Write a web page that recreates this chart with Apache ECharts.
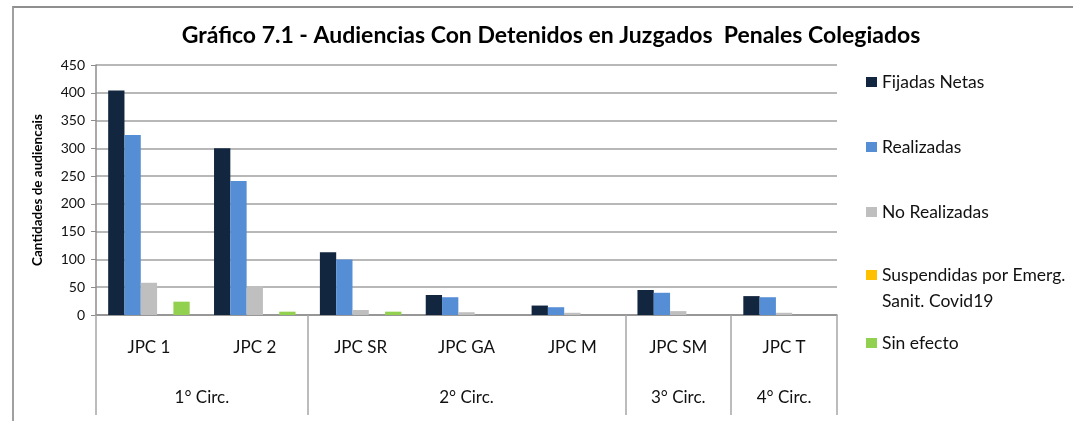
<!DOCTYPE html>
<html>
<head>
<meta charset="utf-8">
<script src="https://cdn.jsdelivr.net/npm/echarts@6/dist/echarts.min.js"></script>
<style>
  body { margin: 0; background: #fff; }
  #wrap { position: relative; width: 1073px; height: 421px; }
  #chart { width: 1073px; height: 421px; }
  #frame { position: absolute; left: 12px; top: 6px; right: 0; bottom: 0;
           border-top: 2px solid #8f8f8f; border-left: 2px solid #a0a0a0; pointer-events: none; }
</style>
</head>
<body>
<div id="wrap">
  <div id="chart"></div>
  <div id="frame"></div>
</div>
<script>
// juzgados y circunscripciones
var categories = ['JPC 1', 'JPC 2', 'JPC SR', 'JPC GA', 'JPC M', 'JPC SM', 'JPC T']
var groups = ['1° Circ.', '2° Circ.', '3° Circ.', '4° Circ.']
var groupSizes = [2, 3, 1, 1]
var yTicks = [0, 50, 100, 150, 200, 250, 300, 350, 400, 450]

// valores
var fijadasNetas = [404, 300, 113, 36, 17, 45, 34]
var realizadas = [324, 241, 100, 32, 14, 40, 32]
var noRealizadas = [58, 52, 9, 5, 4, 7, 4]
var suspendidas = [0, 0, 0, 0, 0, 0, 0]
var sinEfecto = [24, 6, 6, 0, 0, 0, 0]

var seriesNames = ['Fijadas Netas', 'Realizadas', 'No Realizadas', 'Suspendidas por Emerg.\nSanit. Covid19', 'Sin efecto']
var seriesData = [fijadasNetas, realizadas, noRealizadas, suspendidas, sinEfecto]
var colors = ['#13263f', '#558ed5', '#bfbfbf', '#ffc000', '#92d050']

// limites y centros de cada circunscripcion (en unidades de categoria)
var bounds = [0]
var centers = []
groupSizes.forEach(function (n) {
  var start = bounds[bounds.length - 1]
  centers.push(start + n / 2)
  bounds.push(start + n)
})

var font = 'Lato, "Open Sans", sans-serif'
var myChart = echarts.init(document.getElementById('chart'))

// una leyenda por serie para reproducir el espaciado del original
var legendTops = [72, 137, 202, 236, 333]
var legends = seriesNames.map(function (name, i) {
  var multi = name.indexOf('\n') >= 0
  return {
    data: [name],
    orient: 'vertical',
    left: 866,
    top: legendTops[i],
    padding: 0,
    icon: 'rect',
    itemWidth: 11,
    itemHeight: 10,
    itemGap: 0,
    // linea vacia arriba para que el icono quede junto a la primera linea
    formatter: function (n) { return multi ? '\n' + n : n },
    textStyle: {
      fontFamily: font,
      fontSize: 17.5,
      color: '#111',
      lineHeight: multi ? 26 : 20
    }
  }
})

var option = {
  animation: false,
  title: {
    text: 'Gráfico 7.1 - Audiencias Con Detenidos en Juzgados  Penales Colegiados',
    left: 546,
    textAlign: 'center',
    top: 19,
    textStyle: { fontFamily: font, fontSize: 23, fontWeight: 'bold', color: '#000' }
  },
  legend: legends,
  grid: { left: 96, right: 236, top: 65, bottom: 106 },
  xAxis: [
    {
      type: 'category',
      data: categories,
      axisLine: { lineStyle: { color: '#8c8c8c', width: 1.5 } },
      axisTick: { show: false },
      axisLabel: { margin: 24, fontFamily: font, fontSize: 17, color: '#111' }
    },
    {
      type: 'value',
      min: 0,
      max: categories.length,
      position: 'bottom',
      axisLine: { show: false },
      splitLine: { show: false },
      axisTick: {
        show: true,
        customValues: bounds,
        length: 100,
        lineStyle: { color: '#a6a6a6', width: 1.5 }
      },
      axisLabel: {
        customValues: centers,
        margin: 74,
        fontFamily: font,
        fontSize: 17,
        color: '#111',
        formatter: function (v) {
          return groups[centers.indexOf(v)]
        }
      }
    }
  ],
  yAxis: {
    type: 'value',
    min: yTicks[0],
    max: yTicks[yTicks.length - 1],
    interval: yTicks[1] - yTicks[0],
    name: 'Cantidades de audiencais',
    nameLocation: 'middle',
    nameRotate: 90,
    nameGap: 51,
    nameTextStyle: { fontFamily: font, fontSize: 13.5, fontWeight: 'bold', color: '#000' },
    axisLine: { show: true, lineStyle: { color: '#8c8c8c', width: 1.5 } },
    axisTick: { show: true, length: 5, lineStyle: { color: '#8c8c8c' } },
    axisLabel: { margin: 11, fontFamily: font, fontSize: 14, color: '#111' },
    splitLine: { lineStyle: { color: '#a0a0a0', width: 1.5 } }
  },
  series: seriesNames.map(function (name, i) {
    return {
      name: name,
      type: 'bar',
      data: seriesData[i],
      barGap: 0,
      barCategoryGap: '23%',
      itemStyle: { color: colors[i] }
    }
  })
}

myChart.setOption(option)
</script>
</body>
</html>
